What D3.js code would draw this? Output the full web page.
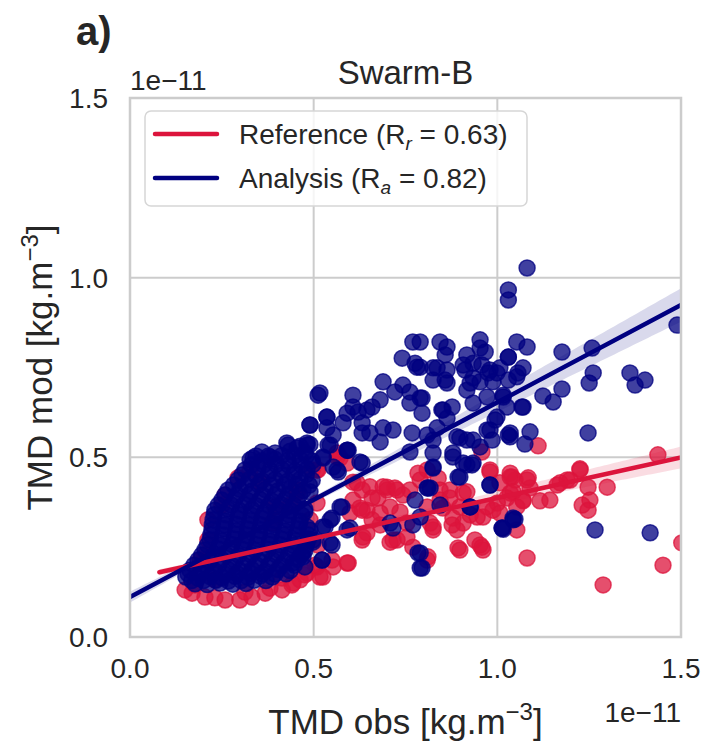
<!DOCTYPE html>
<html>
<head>
<meta charset="utf-8">
<script src="https://cdn.jsdelivr.net/npm/d3@7"></script>
<style>
  body { margin: 0; background: #fff; }
  text { font-family: "Liberation Sans", Arial, sans-serif; fill: #262626; }
</style>
</head>
<body>
<script>
// values in units of 1e-11 kg.m^-3
const axisTicks = [0, 0.5, 1.0, 1.5];
const tickLabels = ["0.0", "0.5", "1.0", "1.5"];
const seriesNames = ["Reference", "Analysis"];
const seriesR = ["0.63", "0.82"];
const seriesSub = ["r", "a"];
const seriesColors = ["#dc143c", "#000080"];

// regression fits: [intercept, slope]
const refFit = [0.162, 0.225];
const anaFit = [0.111, 0.542];
// fit line extents (obs)
const refLineRange = [0.08, 1.5];
const anaLineRange = [0.0, 1.5];
// confidence band: [x centre, half width at centre, growth]
const refBand = [0.35, 0.005, 0.026];
const anaBand = [0.35, 0.006, 0.040];

// Reference (red) points [obs, mod]
const refPoints = [
  [1.111,0.532],[1.437,0.507],[1.225,0.468],[1.299,0.417],[1.247,0.417],[1.252,0.381],[1.231,0.367],[1.247,0.353],
  [1.198,0.437],[1.171,0.429],[1.143,0.381],[1.116,0.379],[1.07,0.379],[1.04,0.445],[1.081,0.437],[1.089,0.415],
  [1.053,0.298],[1.081,0.22],[1.288,0.145],[1.451,0.2],[1.502,0.262],[1.0,0.373],
  [1.035,0.456],[1.048,0.437],[1.084,0.443],[0.98,0.465],[1.225,0.465],[1.19,0.437],[1.163,0.423],[0.898,0.242],
  [0.953,0.256],[0.961,0.242],[0.89,0.298],[0.825,0.298],[0.817,0.317],[0.809,0.214],[0.898,0.362],[0.844,0.381],
  [0.907,0.401],[0.988,0.353],[0.961,0.334],[1.07,0.381],[1.035,0.401],[1.007,0.345],[0.79,0.437],[0.809,0.465],[0.871,0.409],
  [0.512,0.465],[0.572,0.498],[0.607,0.431],[0.632,0.409],[0.645,0.353],[0.675,0.387],[0.7,0.409],[0.721,0.415],
  [0.743,0.395],[0.735,0.348],[0.762,0.409],[0.784,0.456],[0.839,0.442],[0.844,0.409],[0.871,0.387],[0.879,0.331],
  [0.907,0.317],[0.917,0.404],[0.945,0.334],[0.972,0.362],[0.98,0.459],[1.007,0.429],[1.035,0.445],[1.043,0.404],
  [0.958,0.515],[0.727,0.27],[0.754,0.278],[0.77,0.25],[0.811,0.223],[0.825,0.306],[0.893,0.248],[0.939,0.27],
  [0.958,0.25],[0.708,0.264],[0.645,0.29],[0.632,0.27],[0.594,0.206],[0.55,0.214],[0.517,0.167],[0.482,0.178],
  [0.689,0.418],[0.708,0.362],[0.852,0.359],[0.809,0.362],[0.877,0.312],[0.926,0.34],[1.026,0.387],[1.053,0.362],
  [0.681,0.312],[0.754,0.317],[0.659,0.326],[0.599,0.345],[0.626,0.359],[0.653,0.418],
  [0.509,0.465],[0.564,0.512],[0.591,0.484],[0.618,0.429],[0.607,0.381],[0.632,0.353],[0.659,0.387],[0.7,0.417],
  [0.727,0.409],[0.681,0.345],[0.634,0.278],[0.591,0.206],[0.553,0.195],[0.525,0.167],[0.509,0.195],[0.444,0.15],
  [0.716,0.27],[0.455,0.401],[0.509,0.373],[0.564,0.501],
  [0.212,0.326],[0.212,0.27],[0.204,0.228],[0.169,0.122],[0.204,0.111],[0.259,0.103],[0.299,0.103],[0.332,0.111],
  [0.368,0.122],[0.414,0.131],[0.441,0.145],[0.463,0.159],[0.414,0.164],[0.387,0.317],[0.457,0.409],[0.496,0.465],
  [0.395,0.362],[0.294,0.443],[0.259,0.395],[0.177,0.145],[0.231,0.109],[0.313,0.125],[0.381,0.136],[0.15,0.131],
  [0.191,0.214],[0.476,0.173],[0.504,0.2],[0.512,0.256],[0.49,0.326],[0.436,0.367],[0.354,0.431],[0.327,0.465],
  [0.25,0.367],[0.231,0.159]
];

// Analysis (navy) points [obs, mod]
const anaPoints = [
  [1.081,1.027],[1.03,0.966],[1.03,0.938],[1.053,0.821],[1.081,0.807],[1.03,0.779],[1.176,0.793],[1.258,0.804],
  [1.489,0.868],[1.261,0.735],[1.25,0.707],[1.361,0.735],[1.375,0.701],[1.402,0.715],[1.176,0.69],[1.152,0.654],
  [1.124,0.671],[1.07,0.64],[1.07,0.749],[1.053,0.724],[1.035,0.568],[1.089,0.571],[1.075,0.537],[1.247,0.568],
  [1.048,0.328],[1.266,0.298],[1.416,0.29],[1.016,0.668],[1.016,0.30],
  [0.844,0.821],[0.953,0.827],[0.953,0.804],[0.79,0.751],[0.825,0.749],[0.858,0.715],[0.907,0.757],[0.926,0.707],
  [0.98,0.743],[0.999,0.735],[0.79,0.665],[0.852,0.632],[0.877,0.64],[0.934,0.651],[0.994,0.604],[0.98,0.576],
  [0.898,0.554],[0.934,0.548],[0.825,0.548],[0.879,0.512],[0.907,0.484],[0.931,0.479],[0.893,0.445],[0.825,0.47],
  [0.98,0.423],[0.811,0.415],[0.926,0.362],[1.043,0.331],[1.013,0.303],[0.79,0.234],[0.79,0.192],[1.035,0.557],
  [1.067,0.64],[1.03,0.715],[1.056,0.735],
  [0.517,0.679],[0.77,0.821],[0.79,0.821],[0.863,0.807],[0.967,0.793],[0.741,0.776],[0.776,0.762],[0.781,0.751],
  [0.858,0.785],[0.917,0.785],[0.934,0.762],[0.836,0.749],[0.863,0.743],[0.825,0.715],[0.863,0.707],[0.912,0.743],
  [0.958,0.757],[0.975,0.735],[1.007,0.749],[1.03,0.779],[0.988,0.71],[0.953,0.71],[0.917,0.687],[0.934,0.721],
  [1.016,0.673],[0.689,0.71],[0.743,0.701],[0.721,0.682],[0.762,0.682],[0.795,0.665],[0.762,0.651],[0.795,0.623],
  [0.681,0.66],[0.659,0.64],[0.607,0.673],[0.607,0.64],[0.621,0.626],[0.645,0.632],[0.591,0.623],[0.58,0.596],
  [0.632,0.596],[0.653,0.568],[0.689,0.582],[0.716,0.576],[0.536,0.612],[0.49,0.59],[0.536,0.582],[0.553,0.562],
  [0.482,0.54],[0.539,0.534],[0.591,0.52],[0.849,0.632],[0.863,0.609],[0.972,0.668],[0.999,0.612],[1.026,0.64],
  [0.768,0.568],[0.809,0.562],[0.836,0.582],[0.89,0.557],[0.917,0.548],[0.972,0.576],[0.986,0.548],[1.03,0.562],
  [0.681,0.543],[0.632,0.568],
  [0.482,0.534],[0.545,0.534],[0.594,0.52],[0.526,0.498],[0.632,0.484],[0.567,0.459],[0.49,0.404],[0.577,0.362],
  [0.55,0.331],[0.531,0.306],[0.599,0.303],[0.476,0.348],[0.482,0.306],[0.55,0.256],[0.498,0.264],[0.523,0.214],
  [0.471,0.223],[0.476,0.195],[0.708,0.317],[0.716,0.303],[0.77,0.312],[0.79,0.334],[0.776,0.381],[0.809,0.415],
  [0.817,0.415],[0.844,0.367],[0.784,0.234],[0.795,0.192],[0.926,0.362],[0.98,0.423],[1.013,0.303],[1.043,0.326],
  [0.762,0.515],[0.825,0.473],[0.825,0.512],[0.879,0.501],[0.898,0.445],[0.917,0.479],[0.934,0.484],[0.953,0.529],
  [0.553,0.473],[0.591,0.52],[0.525,0.501],[0.626,0.487],[0.572,0.362],[0.545,0.326],[0.525,0.306],[0.591,0.298],
  [0.545,0.262],[0.498,0.27],[0.471,0.234],[0.523,0.214],[0.444,0.206],
  [0.49,0.59],[0.536,0.612],[0.564,0.465],[0.427,0.54],[0.335,0.498],[0.381,0.501],[0.455,0.526],[0.512,0.673],
  // dense cluster at low densities
  [0.430,0.534],[0.463,0.531],[0.490,0.536],
  [0.359,0.515],[0.395,0.512],[0.436,0.517],[0.476,0.513],
  [0.343,0.504],[0.377,0.504],[0.413,0.505],[0.447,0.503],[0.480,0.504],
  [0.327,0.493],[0.359,0.490],[0.395,0.495],[0.430,0.491],[0.463,0.494],[0.496,0.490],
  [0.330,0.479],[0.364,0.479],[0.398,0.480],[0.432,0.478],[0.466,0.479],[0.498,0.480],
  [0.313,0.465],[0.348,0.468],[0.381,0.463],[0.414,0.466],[0.449,0.462],[0.482,0.467],
  [0.305,0.451],[0.342,0.451],[0.377,0.452],[0.412,0.450],[0.447,0.451],[0.480,0.452],
  [0.294,0.437],[0.327,0.440],[0.359,0.435],[0.395,0.438],[0.430,0.434],[0.463,0.439],[0.496,0.436],
  [0.282,0.423],[0.315,0.423],[0.350,0.424],[0.385,0.422],[0.420,0.423],[0.453,0.424],[0.488,0.423],
  [0.267,0.409],[0.299,0.411],[0.332,0.406],[0.368,0.410],[0.403,0.407],[0.436,0.412],[0.471,0.408],
  [0.258,0.395],[0.292,0.395],[0.326,0.396],[0.361,0.394],[0.395,0.395],[0.430,0.396],[0.462,0.395],
  [0.250,0.381],[0.286,0.384],[0.321,0.379],[0.354,0.383],[0.387,0.378],[0.422,0.382],[0.455,0.380],
  [0.240,0.367],[0.276,0.367],[0.310,0.368],[0.343,0.366],[0.378,0.367],[0.412,0.368],[0.446,0.367],
  [0.231,0.353],[0.267,0.356],[0.299,0.351],[0.332,0.355],[0.368,0.350],[0.403,0.354],[0.436,0.352],[0.476,0.356],
  [0.229,0.340],[0.262,0.340],[0.296,0.341],[0.330,0.339],[0.364,0.340],[0.398,0.341],[0.433,0.340],[0.468,0.339],
  [0.226,0.326],[0.259,0.323],[0.294,0.328],[0.327,0.324],[0.359,0.329],[0.395,0.325],[0.430,0.327],[0.463,0.322],
  [0.224,0.312],[0.258,0.312],[0.290,0.313],[0.323,0.311],[0.356,0.312],[0.391,0.313],[0.426,0.312],[0.460,0.311],
  [0.223,0.298],[0.256,0.301],[0.289,0.296],[0.321,0.300],[0.354,0.297],[0.387,0.299],[0.422,0.295],[0.457,0.300],[0.490,0.297],
  [0.220,0.284],[0.253,0.284],[0.286,0.285],[0.318,0.283],[0.351,0.284],[0.384,0.285],[0.418,0.284],[0.452,0.283],[0.486,0.284],
  [0.218,0.270],[0.250,0.268],[0.283,0.272],[0.316,0.269],[0.348,0.273],[0.381,0.267],[0.414,0.271],[0.449,0.268],[0.485,0.272],
  [0.211,0.256],[0.245,0.256],[0.278,0.257],[0.310,0.255],[0.344,0.256],[0.378,0.257],[0.411,0.256],[0.445,0.255],[0.480,0.256],
  [0.204,0.242],[0.240,0.245],[0.272,0.240],[0.305,0.244],[0.340,0.241],[0.376,0.243],[0.408,0.239],[0.441,0.244],[0.476,0.241],
  [0.195,0.228],[0.229,0.228],[0.262,0.229],[0.296,0.227],[0.330,0.228],[0.365,0.229],[0.398,0.228],[0.431,0.227],[0.466,0.228],
  [0.185,0.214],[0.218,0.212],[0.250,0.216],[0.286,0.213],[0.321,0.217],[0.354,0.211],[0.387,0.215],[0.422,0.212],[0.457,0.216],
  [0.174,0.200],[0.207,0.200],[0.241,0.201],[0.277,0.199],[0.310,0.200],[0.343,0.201],[0.378,0.200],[0.412,0.199],[0.447,0.200],
  [0.163,0.186],[0.196,0.189],[0.231,0.184],[0.267,0.188],[0.299,0.185],[0.332,0.187],[0.368,0.183],[0.403,0.188],[0.436,0.185],
  [0.158,0.176],[0.190,0.176],[0.225,0.177],[0.258,0.175],[0.292,0.176],[0.327,0.177],[0.360,0.176],[0.395,0.175],[0.425,0.176],
  [0.152,0.167],[0.185,0.164],[0.218,0.168],[0.250,0.165],[0.286,0.169],[0.321,0.166],[0.354,0.170],[0.387,0.167],
  [0.168,0.157],[0.200,0.157],[0.234,0.158],[0.268,0.156],[0.303,0.157],[0.338,0.158],[0.370,0.157],
  [0.177,0.148],[0.210,0.146],[0.245,0.150],[0.280,0.147],[0.316,0.149]
];

const W = 707, H = 741;
const margin = {top: 98, right: 26, bottom: 104, left: 130};
const pw = W - margin.left - margin.right;
const ph = H - margin.top - margin.bottom;

const svg = d3.select("body").append("svg")
    .attr("width", W)
    .attr("height", H);

const xscale = d3.scaleLinear().domain([0, 1.5]).range([0, pw]);
const yscale = d3.scaleLinear().domain([0, 1.5]).range([ph, 0]);

svg.append("defs").append("clipPath")
    .attr("id", "plotclip")
    .append("rect")
    .attr("width", pw)
    .attr("height", ph);

const g = svg.append("g")
    .attr("transform", `translate(${margin.left},${margin.top})`);

// grid
const grid = g.append("g");
grid.selectAll(".vg").data(axisTicks).enter().append("line")
    .attr("x1", d => xscale(d)).attr("x2", d => xscale(d))
    .attr("y1", 0).attr("y2", ph)
    .attr("stroke", "#cccccc").attr("stroke-width", 2);
grid.selectAll(".hg").data(axisTicks).enter().append("line")
    .attr("y1", d => yscale(d)).attr("y2", d => yscale(d))
    .attr("x1", 0).attr("x2", pw)
    .attr("stroke", "#cccccc").attr("stroke-width", 2);

const plot = g.append("g").attr("clip-path", "url(#plotclip)");

function drawScatter(points, color) {
    plot.append("g").selectAll("circle")
        .data(points)
        .enter()
        .append("circle")
        .attr("cx", d => xscale(d[0]))
        .attr("cy", d => yscale(d[1]))
        .attr("r", 8)
        .attr("fill", color)
        .attr("fill-opacity", 0.75)
        .attr("stroke", color)
        .attr("stroke-opacity", 0.75)
        .attr("stroke-width", 1.5);
}

function drawBand(fit, band, range, color) {
    const xs = d3.range(range[0], range[1] + 0.001, 0.01);
    const hw = x => Math.sqrt(band[1] * band[1] + Math.pow(band[2] * (x - band[0]), 2));
    const area = d3.area()
        .x(x => xscale(x))
        .y0(x => yscale(fit[0] + fit[1] * x - hw(x)))
        .y1(x => yscale(fit[0] + fit[1] * x + hw(x)));
    plot.append("path")
        .datum(xs)
        .attr("d", area)
        .attr("fill", color)
        .attr("fill-opacity", 0.15);
}

function drawFit(fit, range, color) {
    plot.append("line")
        .attr("x1", xscale(range[0]))
        .attr("y1", yscale(fit[0] + fit[1] * range[0]))
        .attr("x2", xscale(range[1]))
        .attr("y2", yscale(fit[0] + fit[1] * range[1]))
        .attr("stroke", color)
        .attr("stroke-width", 4.5)
        .attr("stroke-linecap", "round");
}

drawScatter(refPoints, seriesColors[0]);
drawBand(refFit, refBand, refLineRange, seriesColors[0]);
drawScatter(anaPoints, seriesColors[1]);
drawBand(anaFit, anaBand, anaLineRange, seriesColors[1]);
drawFit(refFit, refLineRange, seriesColors[0]);
drawFit(anaFit, anaLineRange, seriesColors[1]);

// spines
g.append("rect")
    .attr("width", pw).attr("height", ph)
    .attr("fill", "none")
    .attr("stroke", "#cccccc")
    .attr("stroke-width", 2.5);

// tick labels
g.selectAll(".xt").data(axisTicks).enter().append("text")
    .attr("x", d => xscale(d))
    .attr("y", ph + 41)
    .attr("text-anchor", "middle")
    .attr("font-size", 28)
    .text((d, i) => tickLabels[i]);
g.selectAll(".yt").data(axisTicks).enter().append("text")
    .attr("x", -22)
    .attr("y", d => yscale(d) + 10)
    .attr("text-anchor", "end")
    .attr("font-size", 28)
    .text((d, i) => tickLabels[i]);

// offset texts
g.append("text").attr("x", 0).attr("y", -8).attr("font-size", 28).text("1e\u221211");
g.append("text").attr("x", pw).attr("y", ph + 85).attr("text-anchor", "end").attr("font-size", 28).text("1e\u221211");

// axis labels
const xl = svg.append("text")
    .attr("x", margin.left + pw / 2)
    .attr("y", 734)
    .attr("text-anchor", "middle")
    .attr("font-size", 35);
xl.append("tspan").text("TMD obs [kg.m");
xl.append("tspan").attr("font-size", 24).attr("dy", -14).text("\u22123");
xl.append("tspan").attr("dy", 14).text("]");

const yl = svg.append("text")
    .attr("transform", `translate(52,${margin.top + ph / 2}) rotate(-90)`)
    .attr("text-anchor", "middle")
    .attr("font-size", 35);
yl.append("tspan").text("TMD mod [kg.m");
yl.append("tspan").attr("font-size", 24).attr("dy", -14).text("\u22123");
yl.append("tspan").attr("dy", 14).text("]");

// title and panel letter
svg.append("text")
    .attr("x", margin.left + pw / 2)
    .attr("y", 84)
    .attr("text-anchor", "middle")
    .attr("font-size", 33)
    .text("Swarm-B");
svg.append("text")
    .attr("x", 76)
    .attr("y", 45)
    .attr("font-size", 40)
    .attr("font-weight", "bold")
    .text("a)");

// legend
const lg = g.append("g").attr("transform", "translate(15,13)");
lg.append("rect")
    .attr("width", 382).attr("height", 95)
    .attr("rx", 6)
    .attr("fill", "#fff").attr("fill-opacity", 0.8)
    .attr("stroke", "#d6d6d6").attr("stroke-width", 1.5);
seriesNames.forEach((name, i) => {
    const yy = 23 + i * 44;
    lg.append("line")
        .attr("x1", 10).attr("x2", 72)
        .attr("y1", yy).attr("y2", yy)
        .attr("stroke", seriesColors[i])
        .attr("stroke-width", 4.5)
        .attr("stroke-linecap", "round");
    const t = lg.append("text")
        .attr("x", 94).attr("y", yy + 10)
        .attr("font-size", 28);
    t.append("tspan").text(name + " (R");
    t.append("tspan").attr("font-size", 19).attr("font-style", "italic").attr("dy", 6).text(seriesSub[i]);
    t.append("tspan").attr("dy", -6).text(" = " + seriesR[i] + ")");
});
</script>
</body>
</html>
